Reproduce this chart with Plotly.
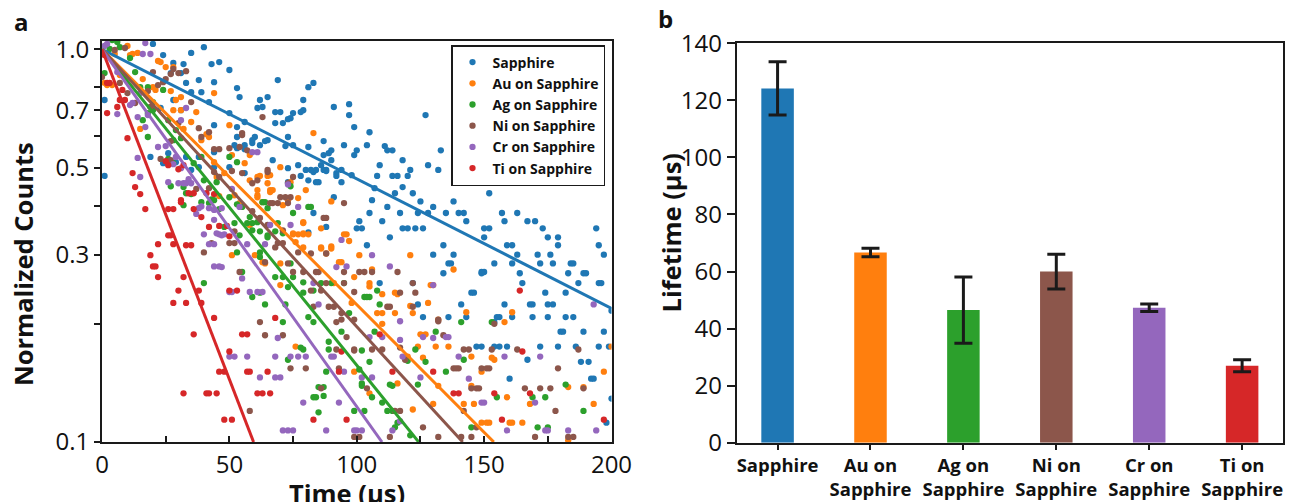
import plotly.graph_objects as go

# ---------------- data: panel a (time in us, normalized counts) ----------------
series_names = ["Sapphire", "Au on Sapphire", "Ag on Sapphire", "Ni on Sapphire", "Cr on Sapphire", "Ti on Sapphire"]
series_colors = ["#1f77b4", "#ff7f0e", "#2ca02c", "#8c564b", "#9467bd", "#d62728"]

sapphire_pts = [
    (1,0.743),(1,0.476),(20,1.032),(24,0.967),(28,0.923),(32,0.917),(35,0.979),(40,1.013),(43,0.917),(46,0.928),
    (50,0.886),(53,0.797),(54,0.756),(38,0.835),(44,0.825),(33,0.821),(31,0.870),(27,0.870),(35,0.778),(39,0.778),
    (42,0.734),(28,0.743),(31,0.700),(23,0.709),(69,0.835),(62,0.743),(63,0.713),(65,0.756),(61,0.709),(70,0.692),
    (68,0.649),(71,0.649),(74,0.668),(75,0.688),(79,0.700),(79,0.743),(81,0.801),(83,0.821),(44,0.641),(50,0.688),
    (53,0.634),(56,0.653),(60,0.598),(65,0.587),(59,0.577),(56,0.570),(53,0.560),(73,0.598),(75,0.570),(81,0.564),
    (73,0.498),(77,0.507),(80,0.493),(83,0.487),(85,0.459),(87,0.493),(89,0.544),(44,0.547),(38,0.532),(38,0.501),
    (44,0.501),(53,0.598),(50,0.501),(56,0.484),(24,0.513),(26,0.544),(33,0.532),(35,0.493),(29,0.516),(83,0.383),
    (88,0.353),(81,0.342),(19,0.532),(91,0.713),(97,0.725),(97,0.680),(99,0.634),(105,0.615),(127,0.680),(87,0.584),
    (90,0.553),(95,0.570),(100,0.553),(104,0.570),(99,0.538),(87,0.538),(90,0.522),(86,0.507),(84,0.493),(88,0.490),
    (92,0.476),(94,0.459),(84,0.459),(94,0.493),(98,0.478),(108,0.476),(109,0.507),(111,0.567),(112,0.553),(114,0.553),
    (118,0.522),(114,0.476),(116,0.476),(120,0.476),(121,0.493),(118,0.446),(107,0.443),(115,0.430),(122,0.430),(128,0.507),
    (132,0.493),(133,0.553),(141,0.507),(148,0.493),(145,0.459),(152,0.430),(161,0.490),(167,0.476),(138,0.410),(130,0.397),
    (125,0.410),(124,0.383),(117,0.383),(112,0.397),(106,0.413),(105,0.383),(101,0.365),(102,0.350),(100,0.350),(110,0.365),
    (113,0.332),(118,0.350),(120,0.350),(123,0.350),(126,0.350),(128,0.383),(135,0.383),(140,0.383),(142,0.383),(143,0.365),
    (150,0.350),(152,0.350),(157,0.383),(158,0.365),(163,0.383),(167,0.365),(170,0.365),(173,0.350),(175,0.332),(179,0.332),
    (194,0.350),(195,0.317),(159,0.317),(161,0.317),(134,0.317),(150,0.332),(104,0.317),(68,0.692),(73,0.664),(78,0.692),
    (64,0.584),(62,0.570),(72,0.567),(67,0.522),(138,0.300),(136,0.285),(130,0.300),(134,0.269),(149,0.271),(150,0.271),
    (145,0.240),(146,0.240),(154,0.285),(163,0.300),(161,0.285),(164,0.269),(165,0.254),(171,0.300),(172,0.285),(176,0.300),
    (177,0.285),(179,0.317),(184,0.285),(185,0.285),(183,0.269),(189,0.269),(190,0.269),(187,0.254),(197,0.300),(195,0.254),
    (196,0.254),(174,0.240),(182,0.240),(169,0.224),(168,0.224),(175,0.224),(177,0.224),(158,0.224),(156,0.208),(155,0.208),
    (161,0.208),(169,0.208),(175,0.208),(182,0.208),(185,0.208),(180,0.191),(181,0.191),(189,0.191),(197,0.191),(200,0.216),
    (124,0.224),(126,0.208),(136,0.208),(141,0.224),(147,0.175),(149,0.175),(154,0.175),(156,0.175),(159,0.175),(167,0.162),
    (172,0.175),(179,0.175),(186,0.175),(188,0.160),(191,0.160),(195,0.175),(199,0.175),(192,0.145),(193,0.145),(200,0.129),
    (198,0.112),(160,0.145),(52,0.570),(59,0.587),(82,0.493),(88,0.493),(92,0.484),(81,0.464),(73,0.459),(78,0.476),
    (56,0.557),(91,0.420),(137,0.285),(149,0.269),(109,0.254),(122,0.254),(143,0.208),(154,0.202),
]

au_pts = [
    (1,0.821),(5,0.973),(10,1.020),(12,0.973),(7,0.860),(16,0.840),(22,0.934),(28,0.901),(21,0.788),(27,0.783),
    (29,0.743),(28,0.700),(31,0.700),(15,0.627),(32,0.627),(35,0.653),(39,0.587),(44,0.774),(50,0.641),(41,0.608),
    (51,0.538),(48,0.484),(46,0.423),(52,0.425),(54,0.406),(61,0.473),(61,0.425),(65,0.476),(2,0.811),(4,0.811),
    (11,0.967),(14,0.979),(23,0.928),(25,0.901),(20,0.801),(31,0.756),(37,0.692),(42,0.598),(45,0.473),(58,0.464),
    (61,0.438),(66,0.478),(74,0.459),(77,0.418),(75,0.340),(79,0.340),(83,0.612),(63,0.408),(73,0.413),(51,0.299),
    (60,0.299),(64,0.285),(70,0.285),(86,0.313),(76,0.175),(79,0.313),(90,0.315),(101,0.299),(94,0.287),(105,0.254),
    (108,0.213),(115,0.240),(110,0.200),(121,0.299),(121,0.222),(128,0.226),(130,0.251),(138,0.275),(132,0.205),(126,0.187),
    (131,0.175),(120,0.165),(142,0.125),(146,0.125),(143,0.214),(145,0.165),(149,0.151),(153,0.164),(158,0.202),(159,0.130),
    (149,0.112),(151,0.112),(152,0.112),(160,0.112),(161,0.112),(165,0.112),(161,0.214),(168,0.125),(183,0.138),(189,0.138),
    (193,0.125),(197,0.151),(200,0.175),(183,0.101),(116,0.141),(105,0.133),(70,0.501),(66,0.438),(67,0.438),(80,0.438),
    (90,0.410),(79,0.361),(86,0.350),(77,0.338),(81,0.338),(95,0.338),(96,0.338),(71,0.401),(97,0.325),
    (62,0.476),(56,0.513),(65,0.456),(66,0.433),(61,0.420),(58,0.357),(75,0.338),(79,0.338),(76,0.323),(86,0.311),
    (88,0.302),(90,0.311),(79,0.363),(63,0.287),(70,0.251),(91,0.254),(44,0.516),(58,0.538),(93,0.287),(99,0.263),
    (106,0.275),(105,0.249),(110,0.238),(116,0.238),(122,0.213),(115,0.213),(110,0.213),(98,0.226),(129,0.251),(125,0.188),
    (127,0.188),(136,0.175),(124,0.175),(126,0.164),(132,0.139),(145,0.139),(154,0.162),(99,0.151),(122,0.121),(130,0.125),
]

ag_pts = [
    (1,0.870),(4,1.056),(7,1.013),(11,0.950),(18,0.801),(24,0.788),(20,0.734),(16,0.660),(18,0.598),(26,0.660),
    (29,0.623),(31,0.594),(26,0.526),(28,0.513),(27,0.448),(35,0.428),(36,0.513),(39,0.532),(43,0.415),(45,0.459),
    (50,0.532),(53,0.516),(46,0.392),(52,0.361),(57,0.361),(61,0.363),(62,0.344),(54,0.336),(32,0.401),(3,1.002),
    (6,1.044),(13,0.875),(15,0.801),(20,0.700),(18,0.688),(28,0.587),(32,0.446),(33,0.430),(40,0.464),(42,0.406),
    (44,0.413),(48,0.353),(50,0.420),(53,0.403),(55,0.397),(65,0.394),(59,0.361),(69,0.361),(71,0.340),(75,0.383),
    (53,0.304),(62,0.304),(74,0.285),(71,0.263),(75,0.263),(79,0.255),(79,0.240),(62,0.240),(64,0.224),(72,0.224),
    (40,0.254),(59,0.234),(71,0.202),(83,0.202),(79,0.172),(73,0.162),(88,0.151),(87,0.138),(84,0.130),(85,0.119),
    (89,0.180),(83,0.243),(86,0.254),(90,0.254),(81,0.208),(78,0.174),(89,0.172),(85,0.138),(87,0.131),(83,0.130),
    (99,0.120),(103,0.120),(106,0.130),(101,0.153),(102,0.141),(113,0.140),(114,0.120),(116,0.112),(103,0.234),(105,0.234),
    (108,0.243),(109,0.224),(123,0.172),(124,0.140),(127,0.160),(131,0.191),(135,0.151),(141,0.202),(153,0.202),(155,0.130),
    (169,0.130),(171,0.109),(175,0.109),(174,0.130),(182,0.140),(189,0.120),(74,0.448),(81,0.397),(64,0.408),(68,0.344),
    (65,0.336),(63,0.408),(82,0.397),(58,0.374),(59,0.346),(65,0.332),(62,0.296),(68,0.263),(73,0.248),(55,0.271),
    (39,0.408),(95,0.254),(104,0.234),(97,0.213),(94,0.191),(107,0.191),(102,0.171),(105,0.160),(102,0.139),(114,0.139),
    (110,0.126),(120,0.161),(142,0.162),(112,0.120),(115,0.109),(121,0.104),(145,0.109),
]

ni_pts = [
    (0,0.850),(7,0.821),(10,0.774),(13,0.730),(18,0.783),(19,0.713),(22,0.811),(24,0.825),(25,0.840),(20,0.875),
    (27,0.865),(30,0.870),(33,0.880),(30,0.649),(27,0.584),(23,0.526),(27,0.522),(35,0.734),(38,0.630),(39,0.598),
    (44,0.557),(46,0.557),(44,0.487),(46,0.473),(51,0.490),(55,0.612),(57,0.553),(55,0.484),(61,0.464),(59,0.456),
    (63,0.672),(65,0.357),(37,0.441),(42,0.443),(59,0.387),(5,0.996),(9,1.008),(28,0.891),(50,0.560),(54,0.564),
    (67,0.406),(69,0.406),(70,0.420),(75,0.473),(74,0.420),(71,0.346),(40,0.304),(50,0.321),(52,0.321),(54,0.271),
    (62,0.202),(64,0.187),(71,0.187),(74,0.154),(80,0.154),(86,0.137),(58,0.120),(69,0.321),(71,0.321),(73,0.285),
    (75,0.271),(79,0.271),(82,0.243),(86,0.243),(83,0.221),(89,0.221),(82,0.302),(88,0.302),(85,0.271),(101,0.271),
    (103,0.271),(106,0.271),(116,0.271),(95,0.254),(112,0.221),(113,0.221),(99,0.241),(91,0.221),(94,0.205),(99,0.205),
    (96,0.185),(92,0.172),(99,0.172),(93,0.154),(106,0.172),(117,0.174),(122,0.254),(123,0.240),(117,0.240),(132,0.205),
    (134,0.187),(138,0.154),(142,0.172),(144,0.172),(140,0.154),(149,0.154),(152,0.154),(145,0.137),(147,0.137),(142,0.120),
    (153,0.172),(163,0.172),(166,0.137),(172,0.137),(179,0.154),(176,0.137),(178,0.120),(187,0.172),(189,0.137),(183,0.103),
    (185,0.103),(101,0.103),(132,0.103),(141,0.103),(170,0.103),(65,0.493),(72,0.420),(73,0.406),(95,0.406),(88,0.372),
    (42,0.615),(55,0.605),(65,0.487),(73,0.456),(66,0.406),(62,0.372),(52,0.344),(64,0.287),(68,0.313),(77,0.304),
    (84,0.271),(88,0.254),(43,0.321),(87,0.372),(95,0.271),(122,0.221),(132,0.203),(154,0.200),(94,0.213),(92,0.202),
    (99,0.171),(110,0.172),(119,0.162),(139,0.154),(151,0.154),(104,0.137),(115,0.120),(117,0.120),(148,0.137),(126,0.109),
    (113,0.103),(99,0.103),(147,0.109),(145,0.103),
]

cr_pts = [
    (19,0.973),(16,0.973),(6,0.875),(6,0.684),(15,0.774),(14,0.672),(18,0.680),(17,0.634),(22,0.564),(25,0.567),
    (29,0.532),(31,0.498),(33,0.456),(30,0.456),(14,0.529),(15,0.473),(34,0.467),(37,0.381),(39,0.398),(40,0.338),
    (46,0.338),(48,0.338),(59,0.547),(51,0.441),(31,0.660),(33,0.709),(11,0.721),(2,1.032),(17,1.038),(12,0.730),
    (28,0.510),(35,0.456),(26,0.459),(42,0.394),(44,0.390),(45,0.340),(61,0.547),(42,0.319),(44,0.319),(64,0.319),
    (57,0.319),(44,0.280),(46,0.280),(50,0.241),(51,0.241),(58,0.241),(61,0.241),(63,0.241),(50,0.165),(52,0.165),
    (57,0.165),(68,0.165),(74,0.165),(77,0.165),(80,0.165),(69,0.184),(62,0.146),(68,0.146),(70,0.146),(79,0.126),
    (71,0.107),(73,0.107),(75,0.107),(88,0.107),(55,0.261),(94,0.327),(106,0.299),(96,0.280),(113,0.280),(83,0.254),
    (85,0.224),(90,0.165),(91,0.165),(102,0.146),(95,0.151),(99,0.107),(102,0.107),(114,0.107),(117,0.182),(117,0.113),
    (126,0.185),(130,0.184),(135,0.185),(144,0.145),(149,0.126),(158,0.165),(159,0.107),(170,0.126),(174,0.107),(175,0.107),
    (183,0.107),(194,0.107),(193,0.224),(172,0.165),(73,0.453),(77,0.397),(74,0.357),(66,0.357),(1,1.020),
    (32,0.456),(38,0.394),(47,0.394),(44,0.368),(47,0.336),(54,0.397),(47,0.279),(92,0.279),(130,0.251),(117,0.203),
    (105,0.185),(110,0.185),(136,0.185),(140,0.165),(125,0.146),(106,0.146),(93,0.126),(100,0.107),(150,0.126),(118,0.165),
]

ti_pts = [
    (1,0.967),(2,0.821),(3,0.821),(2,0.688),(7,0.743),(6,0.713),(10,0.594),(12,0.484),(13,0.446),(15,0.428),
    (17,0.392),(25,0.519),(26,0.507),(30,0.495),(32,0.507),(34,0.430),(36,0.430),(31,0.408),(41,0.430),(44,0.428),
    (42,0.353),(46,0.355),(49,0.355),(39,0.374),(26,0.336),(27,0.336),(8,0.788),(9,0.743),(26,0.392),(28,0.392),
    (33,0.317),(35,0.317),(31,0.413),(22,0.319),(28,0.319),(19,0.299),(20,0.280),(21,0.280),(22,0.263),(32,0.263),
    (30,0.243),(38,0.243),(50,0.243),(53,0.243),(28,0.226),(33,0.226),(39,0.226),(44,0.207),(36,0.188),(55,0.188),
    (57,0.188),(68,0.207),(50,0.170),(46,0.151),(48,0.151),(57,0.151),(58,0.151),(65,0.151),(32,0.133),(41,0.133),
    (42,0.133),(45,0.133),(61,0.133),(63,0.133),(66,0.133),(48,0.114),(51,0.114),(83,0.114),(164,0.243),(109,0.188),
    (94,0.170),(93,0.151),(114,0.151),(130,0.151),(138,0.133),(140,0.133),(154,0.133),(168,0.133),(157,0.114),(96,0.114),
    (165,0.170),(197,0.114),(36,0.392),(50,0.334),
]

all_pts = [sapphire_pts, au_pts, ag_pts, ni_pts, cr_pts, ti_pts]

# exponential fit lines (straight on the log axis): start and end points
fit_start_t = [0, 0, 0, 0, 0, 0]
fit_start_v = [1.0, 1.0, 1.0, 1.0, 1.0, 1.0]
fit_end_t = [200, 153.8, 124.3, 141.6, 109.9, 59.5]
fit_end_v = [0.219, 0.1, 0.1, 0.1, 0.1, 0.1]

# ---------------- data: panel b ----------------
bar_categories = ["Sapphire", "Au on<br>Sapphire", "Ag on<br>Sapphire", "Ni on<br>Sapphire", "Cr on<br>Sapphire", "Ti on<br>Sapphire"]
lifetimes = [124.2, 66.7, 46.5, 60.0, 47.3, 27.0]
lifetime_err = [9.3, 1.5, 11.6, 6.1, 1.3, 2.1]

x_tickvals = [0, 25, 50, 75, 100, 125, 150, 175, 200]
x_ticktext = ["0", "", "50", "", "100", "", "150", "", "200"]
y_tickvals = [0.1, 0.2, 0.3, 0.4, 0.5, 0.6, 0.7, 0.8, 1.0]
y_ticktext = ["0.1", "", "0.3", "", "0.5", "", "0.7", "", "1.0"]

# ---------------- layout helpers ----------------
W, H = 1293, 502
PAGE_OFFSET = 8  # the html page body adds an 8px margin around the figure


def fx(px):
    return (px - PAGE_OFFSET) / W


def fy(py):
    return 1 - (py - PAGE_OFFSET) / H


FONT = "Open Sans"
INK = "#1a1a1a"

fig = go.Figure()

for name, pts, col in zip(series_names, all_pts, series_colors):
    fig.add_trace(go.Scatter(
        x=[p[0] for p in pts], y=[p[1] for p in pts], mode="markers", name=name,
        marker=dict(size=6.3, color=col, line=dict(width=0)),
        xaxis="x", yaxis="y",
    ))

for i, col in enumerate(series_colors):
    fig.add_trace(go.Scatter(
        x=[fit_start_t[i], fit_end_t[i]], y=[fit_start_v[i], fit_end_v[i]], mode="lines",
        line=dict(color=col, width=3), showlegend=False, hoverinfo="skip",
        xaxis="x", yaxis="y",
    ))

fig.add_trace(go.Bar(
    x=bar_categories, y=lifetimes, width=0.35,
    marker=dict(color=series_colors, line=dict(width=0)),
    error_y=dict(type="data", array=lifetime_err, visible=True, color=INK, thickness=3, width=9),
    showlegend=False, xaxis="x2", yaxis="y2",
))

axis_common = dict(showline=True, linecolor=INK, linewidth=2, mirror=True, showgrid=False, zeroline=False,
                   automargin=False, tickcolor=INK, tickwidth=1.6,
                   tickfont=dict(family=FONT, size=24, color="#111"))

fig.update_layout(
    width=W, height=H,
    margin=dict(l=0, r=0, t=0, b=0, autoexpand=False),
    paper_bgcolor="white", plot_bgcolor="white",
    font=dict(family=FONT, color="#111"),
    xaxis=dict(domain=[fx(102), fx(611.5)], range=[0, 200], tickmode="array", tickvals=x_tickvals,
               ticktext=x_ticktext, ticks="inside", ticklen=6, anchor="y", **axis_common),
    yaxis=dict(domain=[fy(442), fy(40.7)], type="log", range=[-1, 0.022], tickmode="array", tickvals=y_tickvals,
               ticktext=y_ticktext, ticks="outside", ticklen=6, anchor="x", **axis_common),
    xaxis2=dict(domain=[fx(736.7), fx(1283)], type="category", range=[-0.44, 5.44], ticks="outside", ticklen=5,
                anchor="y2", showline=True, linecolor=INK, linewidth=2, mirror=True, showgrid=False, zeroline=False,
                automargin=False, tickcolor=INK, tickwidth=1.6,
                tickfont=dict(family=FONT, size=18.5, color="#111", weight="bold")),
    yaxis2=dict(domain=[fy(442.7), fy(43.3)], range=[0, 140], tickmode="linear", tick0=0, dtick=20,
                ticks="outside", ticklen=8, anchor="x2", **axis_common),
    legend=dict(x=fx(605), y=fy(45), xanchor="right", yanchor="top", bgcolor="white", bordercolor=INK,
                borderwidth=1.5, font=dict(family=FONT, size=14, color="#111", weight="bold"),
                itemwidth=30, tracegroupgap=0),
    showlegend=True,
)

annots = [
    dict(text="a", x=fx(21), y=fy(22), font=dict(size=24, weight="bold")),
    dict(text="b", x=fx(665), y=fy(19), font=dict(size=24, weight="bold")),
    dict(text="Normalized Counts", x=fx(23), y=fy(264), textangle=-90, font=dict(size=25.5, weight="bold")),
    dict(text="Time (µs)", x=fx(347), y=fy(493), font=dict(size=25.5, weight="bold")),
    dict(text="Lifetime (µs)", x=fx(670), y=fy(232.5), textangle=-90, font=dict(size=25.5, weight="bold")),
]
for a in annots:
    f = dict(family=FONT, color="#111")
    f.update(a.pop("font"))
    fig.add_annotation(xref="paper", yref="paper", showarrow=False, xanchor="center", yanchor="middle", font=f, **a)

fig.write_html("out.html")
